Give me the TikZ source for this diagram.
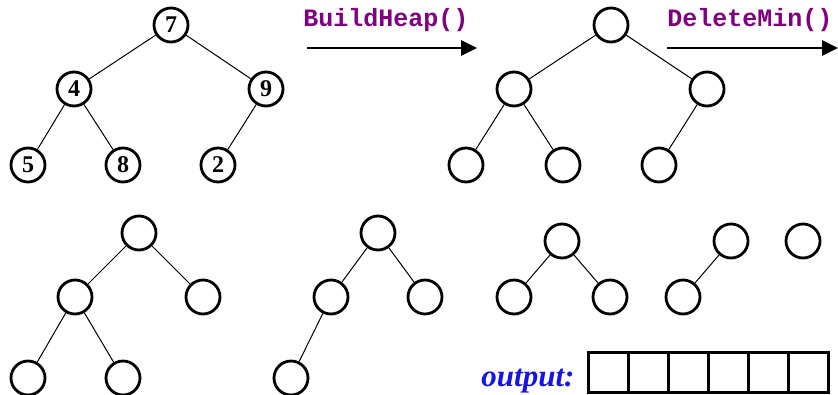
\documentclass[tikz,border=0pt]{standalone}
\usepackage{fontspec}
\setmainfont{Liberation Serif}
\newfontfamily\codefont{Liberation Mono}
\usetikzlibrary{arrows.meta}
\definecolor{codepurple}{RGB}{128,0,128}
\definecolor{outblue}{RGB}{20,20,230}
\tikzset{
  hnode/.style={circle, draw=black, line width=2.8pt, minimum size=34pt, inner sep=0pt, font=\fontsize{24}{24}\selectfont\bfseries},
  edge/.style={draw=black, line width=1pt},
  bigarrow/.style={draw=black, line width=2.8pt, -{Triangle[length=16pt,width=15pt]}},
  codelabel/.style={font=\codefont\fontsize{25}{25}\selectfont\bfseries, text=codepurple},
  outbox/.style={draw=black, line width=3pt, minimum width=40pt, minimum height=40pt, inner sep=0pt}
}
\begin{document}
\begin{tikzpicture}[x=1pt,y=-1pt]
\useasboundingbox (0,0) rectangle (838,394);
% Tree 1
\node[hnode] (a1) at (171,25) {7};
\node[hnode] (a2) at (74,89) {4};
\node[hnode] (a3) at (266,89) {9};
\node[hnode] (a4) at (28,165) {5};
\node[hnode] (a5) at (123,165) {8};
\node[hnode] (a6) at (218,165) {2};
\draw[edge] (a1) -- (a2); \draw[edge] (a1) -- (a3);
\draw[edge] (a2) -- (a4); \draw[edge] (a2) -- (a5);
\draw[edge] (a3) -- (a6);
% Arrow 1
\coordinate (p1) at (307,48); \coordinate (p2) at (477,48);
\draw[bigarrow] (p1) -- (p2);
\node[codelabel] (l1) at (386,20) {BuildHeap()};
% Tree 2
\node[hnode] (b1) at (611,25) {};
\node[hnode] (b2) at (514,89) {};
\node[hnode] (b3) at (707,89) {};
\node[hnode] (b4) at (466,165) {};
\node[hnode] (b5) at (563,165) {};
\node[hnode] (b6) at (659,165) {};
\draw[edge] (b1) -- (b2); \draw[edge] (b1) -- (b3);
\draw[edge] (b2) -- (b4); \draw[edge] (b2) -- (b5);
\draw[edge] (b3) -- (b6);
% Arrow 2
\coordinate (q1) at (667,48); \coordinate (q2) at (838,48);
\draw[bigarrow] (q1) -- (q2);
\node[codelabel] (l2) at (750,20) {DeleteMin()};
% Tree 3
\node[hnode] (c1) at (139,233) {};
\node[hnode] (c2) at (75,297) {};
\node[hnode] (c3) at (203,297) {};
\node[hnode] (c4) at (28,378) {};
\node[hnode] (c5) at (123,378) {};
\draw[edge] (c1) -- (c2); \draw[edge] (c1) -- (c3);
\draw[edge] (c2) -- (c4); \draw[edge] (c2) -- (c5);
% Tree 4
\node[hnode] (d1) at (378,233) {};
\node[hnode] (d2) at (331,297) {};
\node[hnode] (d3) at (425,297) {};
\node[hnode] (d4) at (291,378) {};
\draw[edge] (d1) -- (d2); \draw[edge] (d1) -- (d3);
\draw[edge] (d2) -- (d4);
% Tree 5
\node[hnode] (e1) at (562,241) {};
\node[hnode] (e2) at (514,297) {};
\node[hnode] (e3) at (610,297) {};
\draw[edge] (e1) -- (e2); \draw[edge] (e1) -- (e3);
% Tree 6
\node[hnode] (f1) at (731,241) {};
\node[hnode] (f2) at (683,297) {};
\draw[edge] (f1) -- (f2);
% Tree 7
\node[hnode] (g1) at (803,241) {};
% Output
\node[font=\fontsize{31}{31}\selectfont\bfseries\itshape, text=outblue, anchor=base east] (out) at (578,386) {output:};
\foreach \i in {0,...,5} {
  \node[outbox] (o\i) at (608+40*\i,372) {};
}
\end{tikzpicture}
\end{document}
